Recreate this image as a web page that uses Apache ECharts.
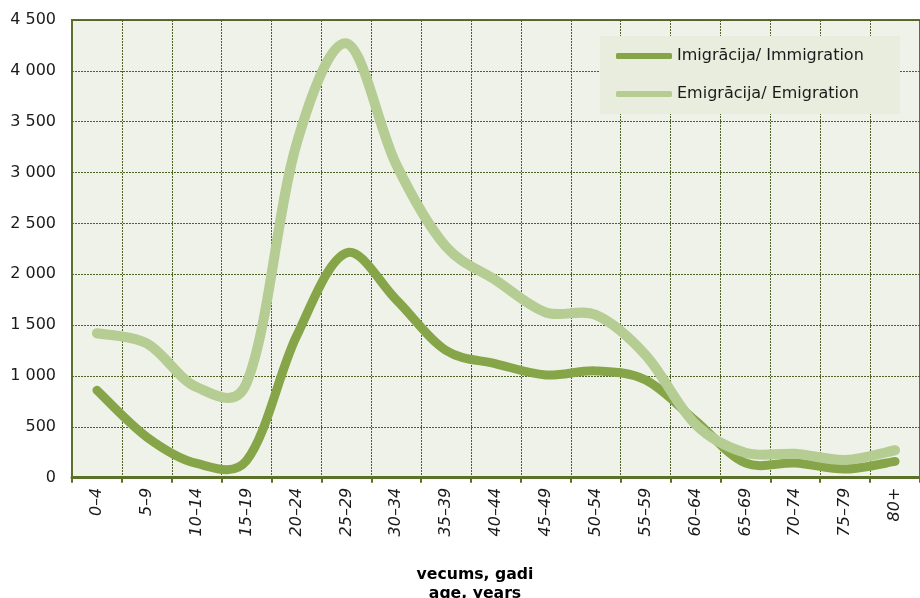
<!DOCTYPE html>
<html><head><meta charset="utf-8">
<script src="https://cdn.jsdelivr.net/npm/echarts@6/dist/echarts.min.js"></script>
<style>html,body{margin:0;padding:0;background:#fff}#c{width:920px;height:598px}</style>
</head><body><div id="c"></div>
<script>
var categories = ['0–4','5–9','10–14','15–19','20–24','25–29','30–34','35–39','40–44','45–49','50–54','55–59','60–64','65–69','70–74','75–79','80+'];
var immigration = [860, 400, 140, 170, 1390, 2210, 1750, 1250, 1120, 1010, 1050, 960, 560, 145, 145, 85, 160];
var emigration = [1420, 1320, 890, 930, 3280, 4270, 3080, 2270, 1940, 1625, 1600, 1205, 525, 245, 235, 175, 270];
var seriesNames = ['Imigrācija/ Immigration', 'Emigrācija/ Emigration'];
var axisTitle = 'vecums, gadi\nage, years';

var FONT = 'DejaVu Sans';
var olive = '#5B7129';
var colDark = '#86A548', colLight = '#B5CC93';

// Smooth curve (cubic Bezier) through pixel positions obtained from the axes
function smoothRenderer(values, color, width) {
  return function (params, api) {
    if (params.dataIndex !== 0) return null;
    var pts = values.map(function (v, i) { return api.coord([i, v]); });
    var n = pts.length;
    function dist(a, b) { return Math.sqrt((a[0]-b[0])*(a[0]-b[0]) + (a[1]-b[1])*(a[1]-b[1])); }
    var d = 'M' + pts[0][0] + ' ' + pts[0][1];
    for (var i = 0; i < n - 1; i++) {
      var p0 = pts[Math.max(i - 1, 0)], p1 = pts[i], p2 = pts[i + 1], p3 = pts[Math.min(i + 2, n - 1)];
      var d01 = dist(p0, p1), d12 = dist(p1, p2), d23 = dist(p2, p3);
      var f1 = (d01 > 0) ? 0.5 * (1 / 6 + d12 / (d01 + d12) / 3) : 1 / 6;
      var f2 = (d23 > 0) ? 0.5 * (1 / 6 + d12 / (d12 + d23) / 3) : 1 / 6;
      var c1x = p1[0] + (p2[0] - p0[0]) * f1, c1y = p1[1] + (p2[1] - p0[1]) * f1;
      var c2x = p2[0] - (p3[0] - p1[0]) * f2, c2y = p2[1] - (p3[1] - p1[1]) * f2;
      d += ' C' + c1x + ' ' + c1y + ' ' + c2x + ' ' + c2y + ' ' + p2[0] + ' ' + p2[1];
    }
    return {type: 'path', shape: {pathData: d},
            style: {fill: null, stroke: color, lineWidth: width, lineCap: 'round', lineJoin: 'round'}};
  };
}

var chart = echarts.init(document.getElementById('c'));
chart.setOption({
  animation: false,
  textStyle: {fontFamily: FONT},
  grid: {left: 72, top: 20, width: 852, height: 457.7, show: true,
         backgroundColor: '#EEF2E8', borderColor: olive, borderWidth: 2, containLabel: false},
  legend: {
    left: 600, top: 36, orient: 'vertical',
    backgroundColor: '#E8EDDE',
    padding: [10, 36, 10, 16],
    itemWidth: 56, itemHeight: 6, itemGap: 18, itemTextGap: 5,
    icon: 'roundRect',
    textStyle: {fontFamily: FONT, fontSize: 16, color: '#1a1a1a', lineHeight: 20},
    data: seriesNames
  },
  xAxis: {
    type: 'category', data: categories, boundaryGap: true,
    axisLine: {show: true, lineStyle: {color: olive, width: 3}},
    axisTick: {show: true, length: 5, lineStyle: {color: olive, width: 2}},
    axisLabel: {rotate: 90, interval: 0, margin: 10, fontSize: 16, fontStyle: 'italic',
                color: '#1a1a1a', fontFamily: FONT},
    splitLine: {show: true, interval: 0, lineStyle: {color: '#4E6226', width: 1, type: [2, 1]}}
  },
  yAxis: {
    type: 'value', min: 0, max: 4500, interval: 500,
    axisLine: {show: true, lineStyle: {color: olive, width: 2}},
    axisTick: {show: false},
    axisLabel: {margin: 16, fontSize: 16, color: '#1a1a1a', fontFamily: FONT,
      formatter: function (v) { return String(v).replace(/\B(?=(\d{3})+(?!\d))/g, ' '); }},
    splitLine: {show: true, lineStyle: {color: '#4E6226', width: 1, type: [2, 1]}}
  },
  graphic: [{
    type: 'text', left: 475 - 60, top: 565,
    style: {text: axisTitle, x: 0, y: 0, fontFamily: FONT, fontWeight: 'bold', fontSize: 15.7,
            fill: '#000', textAlign: 'center', lineHeight: 19, width: 120}
  }],
  series: [
    {name: seriesNames[0], type: 'custom', coordinateSystem: 'cartesian2d',
     data: immigration.map(function (v, i) { return [i, v]; }),
     itemStyle: {color: colDark}, encode: {x: 0, y: 1},
     renderItem: smoothRenderer(immigration, colDark, 9)},
    {name: seriesNames[1], type: 'custom', coordinateSystem: 'cartesian2d',
     data: emigration.map(function (v, i) { return [i, v]; }),
     itemStyle: {color: colLight}, encode: {x: 0, y: 1},
     renderItem: smoothRenderer(emigration, colLight, 10)}
  ]
});
</script></body></html>
